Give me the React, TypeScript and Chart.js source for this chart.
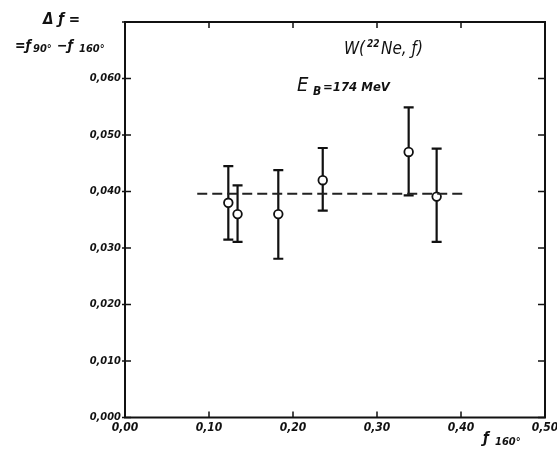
import React, { useEffect, useRef } from "react";
import { Chart, registerables } from "chart.js";

Chart.register(...registerables);

// Data
const xVals = [0.123, 0.134, 0.1825, 0.2354, 0.3377, 0.371];
const yVals = [0.038, 0.036, 0.036, 0.042, 0.047, 0.0391];
const yHigh = [0.0445, 0.0411, 0.0438, 0.0477, 0.0549, 0.0476];
const yLow = [0.0315, 0.0311, 0.0281, 0.0366, 0.0393, 0.0311];
const fitX = [0.086, 0.407];
const fitY = [0.0396, 0.0396];
const xTicks = [0, 0.1, 0.2, 0.3, 0.4, 0.5];
const yTicks = [0, 0.01, 0.02, 0.03, 0.04, 0.05, 0.06, 0.07];

const FONT = '"DejaVu Sans Condensed", "DejaVu Sans", sans-serif';

const errorBars = {
  id: "errorBars",
  beforeDatasetsDraw(chart: any) {
    const { ctx } = chart;
    const xs = chart.scales.x;
    const ys = chart.scales.y;
    ctx.save();
    ctx.strokeStyle = "#111";
    ctx.lineWidth = 2.2;
    for (let i = 0; i < xVals.length; i++) {
      const px = xs.getPixelForValue(xVals[i]);
      const pt = ys.getPixelForValue(yHigh[i]);
      const pb = ys.getPixelForValue(yLow[i]);
      ctx.beginPath();
      ctx.moveTo(px, pt);
      ctx.lineTo(px, pb);
      ctx.moveTo(px - 5, pt);
      ctx.lineTo(px + 5, pt);
      ctx.moveTo(px - 5, pb);
      ctx.lineTo(px + 5, pb);
      ctx.stroke();
    }
    ctx.restore();
  },
};

const frame = {
  id: "frame",
  afterDraw(chart: any) {
    const { ctx, chartArea: a } = chart;
    const xs = chart.scales.x;
    const ys = chart.scales.y;
    ctx.save();
    ctx.strokeStyle = "#111";
    ctx.lineWidth = 2;
    ctx.strokeRect(a.left, a.top, a.right - a.left, a.bottom - a.top);
    ctx.lineWidth = 1.5;
    ctx.beginPath();
    xTicks.forEach((v) => {
      const px = xs.getPixelForValue(v);
      ctx.moveTo(px, a.bottom);
      ctx.lineTo(px, a.bottom - 6);
      ctx.moveTo(px, a.top);
      ctx.lineTo(px, a.top + 6);
    });
    yTicks.forEach((v) => {
      const py = ys.getPixelForValue(v);
      ctx.moveTo(a.left - 3, py);
      ctx.lineTo(a.left + 6, py);
      ctx.moveTo(a.right, py);
      ctx.lineTo(a.right - 7, py);
    });
    ctx.stroke();

    // annotations
    ctx.fillStyle = "#111";
    ctx.textBaseline = "middle";
    ctx.textAlign = "left";
    ctx.font = `italic bold 15px ${FONT}`;
    ctx.fillText("Δ ƒ =", 43, 20);
    ctx.font = `italic bold 14px ${FONT}`;
    ctx.fillText("=ƒ", 15, 46);
    ctx.font = `italic bold 11px ${FONT}`;
    ctx.fillText("90°", 33, 49);
    ctx.font = `italic bold 14px ${FONT}`;
    ctx.fillText("−ƒ", 57, 46);
    ctx.font = `italic bold 11px ${FONT}`;
    ctx.fillText("160°", 79, 49);

    ctx.font = `italic 17px ${FONT}`;
    ctx.fillText("W(", 344, 50);
    ctx.font = `italic bold 10px ${FONT}`;
    ctx.fillText("22", 367, 44);
    ctx.font = `italic 17px ${FONT}`;
    ctx.fillText("Ne, ƒ)", 381, 50);

    ctx.font = `italic 20px ${FONT}`;
    ctx.fillText("E", 297, 86);
    ctx.font = `italic bold 12px ${FONT}`;
    ctx.fillText("B", 313, 92);
    ctx.font = `italic bold 13px ${FONT}`;
    ctx.fillText("=174 MeV", 323, 88);

    ctx.font = `italic bold 15px ${FONT}`;
    ctx.fillText("ƒ", 483, 439);
    ctx.font = `italic bold 11px ${FONT}`;
    ctx.fillText("160°", 495, 442);
    ctx.restore();
  },
};

export default function App() {
  const ref = useRef<HTMLCanvasElement>(null);
  useEffect(() => {
    if (!ref.current) return;
    const chart = new Chart(ref.current, {
      type: "scatter",
      data: {
        datasets: [
          {
            type: "line",
            data: fitX.map((x, i) => ({ x, y: fitY[i] })),
            borderColor: "#222",
            borderWidth: 1.8,
            borderDash: [10, 5],
            pointRadius: 0,
            fill: false,
          } as any,
          {
            data: xVals.map((x, i) => ({ x, y: yVals[i] })),
            pointRadius: 4.3,
            pointBackgroundColor: "#fff",
            pointBorderColor: "#111",
            pointBorderWidth: 1.8,
          },
        ],
      },
      options: {
        responsive: false,
        animation: false,
        layout: { padding: { top: 22, right: 12, left: 0, bottom: 0 } },
        plugins: { legend: { display: false }, tooltip: { enabled: false } },
        scales: {
          x: {
            type: "linear",
            min: 0,
            max: 0.5,
            afterBuildTicks: (s: any) => {
              s.ticks = xTicks.map((v) => ({ value: v }));
            },
            afterFit: (s: any) => {
              s.height = 31.5;
              s.paddingLeft = 0;
              s.paddingRight = 0;
            },
            grid: { display: false, drawTicks: false },
            border: { display: false },
            ticks: {
              padding: 3,
              color: "#111",
              maxRotation: 0,
              font: { family: FONT, size: 12, style: "italic", weight: "bold" },
              callback: (v: any) => Number(v).toFixed(2).replace(".", ","),
            },
          },
          y: {
            type: "linear",
            min: 0,
            max: 0.07,
            afterBuildTicks: (s: any) => {
              s.ticks = yTicks.map((v) => ({ value: v }));
            },
            afterFit: (s: any) => {
              s.width = 125;
              s.paddingTop = 0;
              s.paddingBottom = 0;
            },
            grid: { display: false, drawTicks: false },
            border: { display: false },
            ticks: {
              padding: 4,
              color: "#111",
              font: { family: FONT, size: 11, style: "italic", weight: "bold" },
              callback: (v: any) =>
                Number(v) > 0.065 ? "" : Number(v).toFixed(3).replace(".", ","),
            },
          },
        },
      },
      plugins: [errorBars, frame],
    });
    return () => chart.destroy();
  }, []);
  return (
    <div style={{ position: "absolute", left: 0, top: 0, width: 557, height: 449, background: "#fff" }}>
      <canvas ref={ref} width={557} height={449} style={{ display: "block" }} />
    </div>
  );
}
